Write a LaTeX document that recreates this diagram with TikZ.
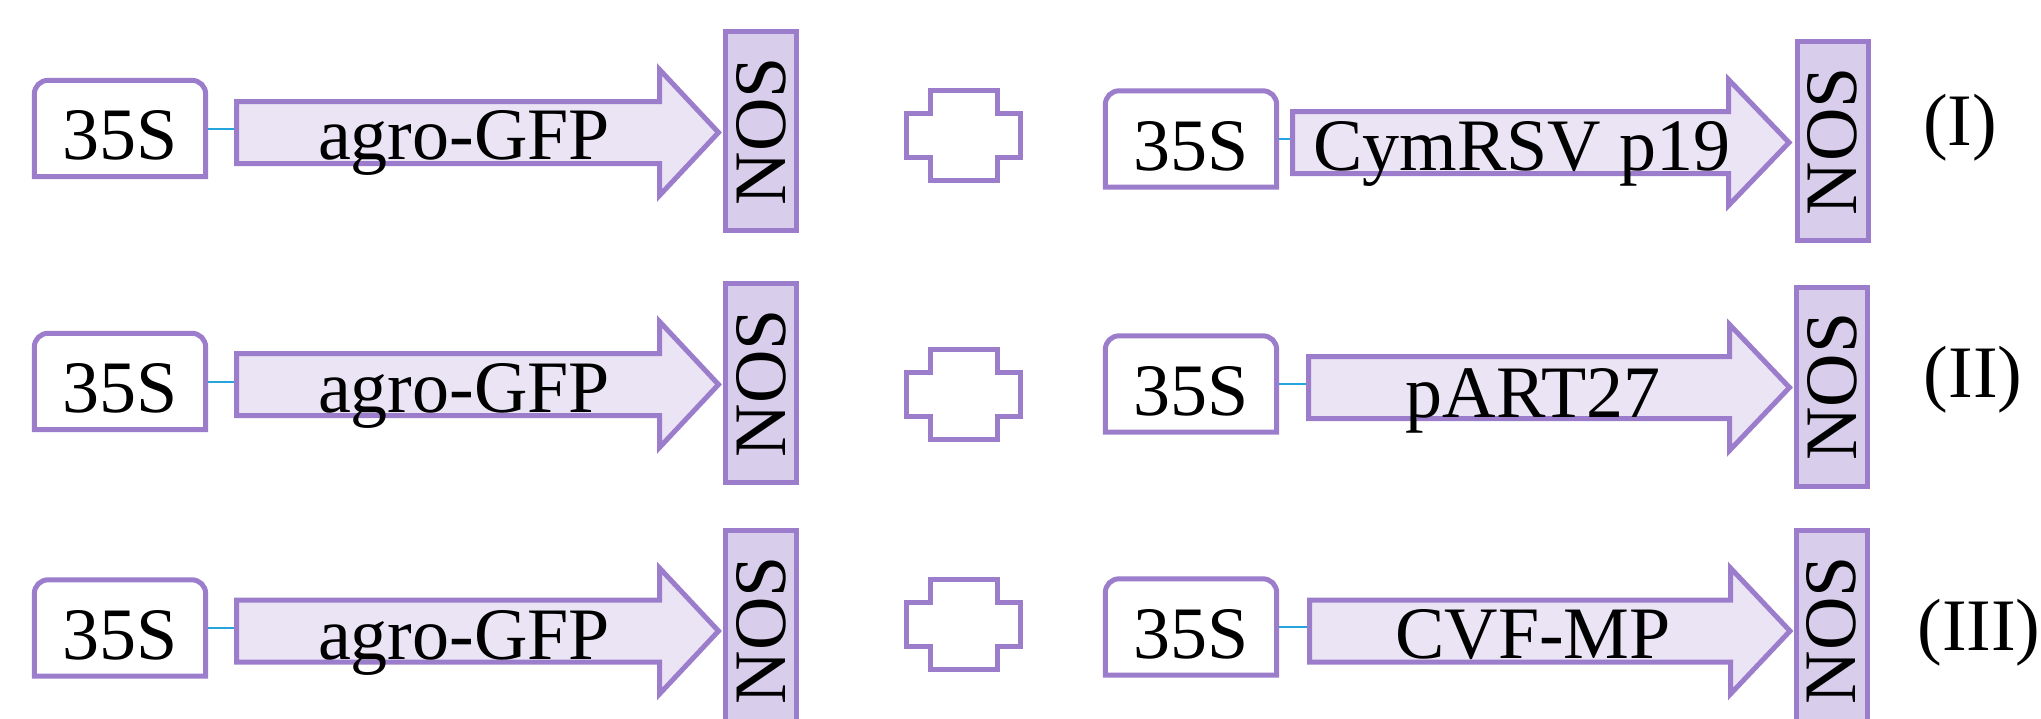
\documentclass[tikz,border=0pt]{standalone}
\usepackage{fontspec}
\setmainfont{Liberation Serif}
\newfontfamily\diagfont{Liberation Serif}
\usetikzlibrary{calc}
\definecolor{pstroke}{RGB}{156,125,204}
\definecolor{afill}{RGB}{234,228,245}
\definecolor{nfill}{RGB}{216,205,234}
\definecolor{linkc}{RGB}{38,164,220}
% promoter box with rounded top corners
\newcommand{\promo}[3]{%
  \node[promoter] (#1) at (#2,#3) {\diagfont 35S};
  \draw[outline] (#1.south west) -- ($(#1.north west)+(0,14)$)
    .. controls ($(#1.north west)+(0,6)$) and ($(#1.north west)+(6,0)$) .. ($(#1.north west)+(14,0)$)
    -- ($(#1.north east)+(-14,0)$)
    .. controls ($(#1.north east)+(-6,0)$) and ($(#1.north east)+(0,6)$) .. ($(#1.north east)+(0,14)$)
    -- (#1.south east) -- cycle;}
% gene arrow: name, left x, head start x, tip x, centre y
\newcommand{\genearrow}[5]{%
  \draw[arrowbody] ({#2},{#5-31}) -- ({#3},{#5-31}) -- ({#3},{#5-63}) -- ({#4},{#5})
    -- ({#3},{#5+63}) -- ({#3},{#5+31}) -- ({#2},{#5+31}) -- cycle;}
% plus sign
\newcommand{\plussign}[3]{%
  \coordinate (#1) at (#2,#3);
  \draw[outline] ($(#1)+(-33.5,-45)$) -- ++(67,0) -- ++(0,23) -- ++(23.5,0) -- ++(0,44)
    -- ++(-23.5,0) -- ++(0,23) -- ++(-67,0) -- ++(0,-23) -- ++(-23.5,0) -- ++(0,-44)
    -- ++(23.5,0) -- cycle;}
\begin{document}
\begin{tikzpicture}[x=1pt,y=-1pt,
  every node/.style={font=\diagfont\fontsize{74}{80}\selectfont, inner sep=0pt, text=black},
  promoter/.style={minimum width=171pt, minimum height=96pt, text height=62pt, text depth=0pt, fill=white},
  outline/.style={draw=pstroke, line width=5pt, line join=miter},
  arrowbody/.style={draw=pstroke, fill=afill, line width=5pt, line join=miter},
  nos/.style={draw=pstroke, fill=nfill, line width=5pt, rotate=90, minimum width=199pt, minimum height=71pt},
  link/.style={draw=linkc, line width=2pt, shorten <=2.5pt},
  gene/.style={anchor=base},
  tag/.style={anchor=base}]
\path[use as bounding box] (0,0) rectangle (2041,718);
\clip (0,0) rectangle (2041,718);

% ---- row I ----
\promo{p1}{120}{128.5}
\coordinate (a1) at (236.5,132.5);
\draw[link] (p1.east) -- (p1.east -| a1);
\genearrow{a1}{236.5}{659.5}{718.5}{132.5}
\node[gene] (g1) at (464,159) {agro-GFP};
\node[nos] (n1) at (761,131) {\diagfont NOS};
\plussign{c1}{963.5}{135.5}
\promo{p4}{1191}{139}
\coordinate (a4) at (1292.5,142.5);
\draw[link] (p4.east) -- (p4.east -| a4);
\genearrow{a4}{1292.5}{1728.5}{1789}{142.5}
\node[gene] (g4) at (1522,170) {CymRSV p19};
\node[nos] (n4) at (1832.5,141) {\diagfont NOS};
\node[tag] (l1) at (1960,145) {(I)};

% ---- row II ----
\promo{p2}{120}{381.5}
\coordinate (a2) at (236.5,384.5);
\draw[link] (p2.east) -- (p2.east -| a2);
\genearrow{a2}{236.5}{659.5}{718.5}{384.5}
\node[gene] (g2) at (464,412) {agro-GFP};
\node[nos] (n2) at (761,383) {\diagfont NOS};
\plussign{c2}{963.5}{394.5}
\promo{p5}{1191}{384}
\coordinate (a5) at (1308.5,387.5);
\draw[link] (p5.east) -- (p5.east -| a5);
\genearrow{a5}{1308.5}{1729.5}{1789.5}{387.5}
\node[gene] (g5) at (1533,417) {pART27};
\node[nos] (n5) at (1832,386.5) {\diagfont NOS};
\node[tag] (l2) at (1973,397) {(II)};

% ---- row III ----
\promo{p3}{120}{628}
\coordinate (a3) at (236.5,631);
\draw[link] (p3.east) -- (p3.east -| a3);
\genearrow{a3}{236.5}{659.5}{718.5}{631}
\node[gene] (g3) at (464,659) {agro-GFP};
\node[nos] (n3) at (761,630) {\diagfont NOS};
\plussign{c3}{963.5}{624.5}
\promo{p6}{1191}{627}
\coordinate (a6) at (1309.5,631);
\draw[link] (p6.east) -- (p6.east -| a6);
\genearrow{a6}{1309.5}{1730.5}{1790}{631}
\node[gene] (g6) at (1533,658) {CVF-MP};
\node[nos] (n6) at (1831.5,630) {\diagfont NOS};
\node[tag] (l3) at (1979,650) {(III)};
\end{tikzpicture}
\end{document}
